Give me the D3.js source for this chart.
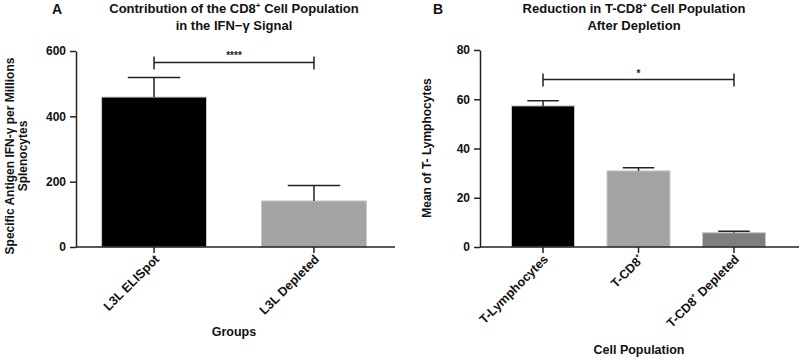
<!DOCTYPE html>
<html>
<head>
<meta charset="utf-8">
<script src="https://cdn.jsdelivr.net/npm/d3@7"></script>
<style>
  body { margin: 0; background: #fff; }
  svg { display: block; font-family: "Liberation Sans", Arial, sans-serif; font-weight: bold; }
</style>
</head>
<body>
<script>
// panel A
const groupsA = ["L3L ELISpot", "L3L Depleted"];
const meansA = [459, 141];
const errA = [60, 47];
const colorsA = ["#000000", "#a3a3a3"];
const ticksA = [0, 200, 400, 600];

// panel B
const groupsB = ["T-Lymphocytes", "T-CD8+", "T-CD8+ Depleted"];
const meansB = [57.3, 30.9, 5.8];
const errB = [2.1, 1.3, 0.6];
const colorsB = ["#000000", "#a3a3a3", "#7f7f7f"];
const ticksB = [0, 20, 40, 60, 80];

var svg = d3.select("body").append("svg")
    .attr("width", 800)
    .attr("height", 357);

function panel(opt) {
    var g = svg.append("g");
    var x = d3.scaleBand()
        .domain(opt.groups)
        .range([opt.x0, opt.x1])
        .paddingInner(opt.padIn)
        .paddingOuter(opt.padOut);
    var y = d3.scaleLinear()
        .domain([0, opt.max])
        .range([247, opt.top]);

    // bars
    g.selectAll("rect.bar")
        .data(opt.groups)
        .enter().append("rect")
        .attr("x", d => x(d))
        .attr("width", x.bandwidth())
        .attr("y", (d, i) => y(opt.means[i]))
        .attr("height", (d, i) => y(0) - y(opt.means[i]))
        .attr("fill", (d, i) => opt.colors[i])
        .attr("stroke", "#c8c8c8")
        .attr("stroke-width", 1);

    // error bars
    var eb = g.selectAll("g.err")
        .data(opt.groups)
        .enter().append("g")
        .attr("stroke", "#222")
        .attr("stroke-width", 1.5);
    eb.append("line")
        .attr("x1", d => x(d) + x.bandwidth() / 2)
        .attr("x2", d => x(d) + x.bandwidth() / 2)
        .attr("y1", (d, i) => y(opt.means[i]))
        .attr("y2", (d, i) => y(opt.means[i] + opt.err[i]));
    eb.append("line")
        .attr("x1", d => x(d) + x.bandwidth() / 4)
        .attr("x2", d => x(d) + x.bandwidth() * 3 / 4)
        .attr("y1", (d, i) => y(opt.means[i] + opt.err[i]))
        .attr("y2", (d, i) => y(opt.means[i] + opt.err[i]));

    // y axis
    var ya = g.append("g")
        .attr("transform", "translate(" + opt.x0 + ",0)")
        .call(d3.axisLeft(y).tickValues(opt.ticks).tickSize(6).tickSizeOuter(0));
    ya.selectAll("text").style("font-size", "12px").style("font-weight", "bold").attr("fill", "#111").attr("dx", "-1");
    ya.selectAll("line, path").attr("stroke", "#222").attr("stroke-width", 1.5);

    // x axis
    var xa = g.append("g")
        .attr("transform", "translate(0,247)")
        .call(d3.axisBottom(x).tickSize(6).tickSizeOuter(0));
    xa.select("path").attr("d", "M" + opt.x0 + ",0H" + opt.xEnd);
    xa.selectAll("line, path").attr("stroke", "#222").attr("stroke-width", 1.5);
    xa.selectAll("text").remove();
    xa.selectAll(".tick").each(function(d) {
        var t = d3.select(this).append("text")
            .attr("transform", "translate(6,13) rotate(-45)")
            .attr("text-anchor", "end")
            .attr("fill", "#111")
            .style("font-size", "12.5px")
            .style("font-weight", "bold");
        var m = d.match(/^(T-CD8)\+(.*)$/);
        if (m) {
            t.append("tspan").text(m[1]);
            t.append("tspan").attr("dy", "-6").style("font-size", "7px").text("+");
            if (m[2]) t.append("tspan").attr("dy", "6").text(m[2]);
        } else {
            t.text(d);
        }
    });

    // significance bracket
    var xa1 = x(opt.groups[0]) + x.bandwidth() / 2;
    var xa2 = x(opt.groups[opt.sigTo]) + x.bandwidth() / 2;
    var sy = y(opt.sigY);
    var br = g.append("g").attr("stroke", "#222").attr("stroke-width", 1.5);
    br.append("line").attr("x1", xa1).attr("x2", xa2).attr("y1", sy).attr("y2", sy);
    br.append("line").attr("x1", xa1).attr("x2", xa1).attr("y1", sy - 6).attr("y2", sy + 7);
    br.append("line").attr("x1", xa2).attr("x2", xa2).attr("y1", sy - 6).attr("y2", sy + 7);
    g.append("text")
        .attr("x", (xa1 + xa2) / 2)
        .attr("y", sy - 3)
        .attr("text-anchor", "middle")
        .style("font-size", "10px")
        .attr("fill", "#222")
        .text(opt.stars);

    // panel letter
    g.append("text")
        .attr("x", opt.letterX)
        .attr("y", 14)
        .style("font-size", "14px")
        .attr("fill", "#111")
        .text(opt.letter);

    // title
    var t1 = g.append("text")
        .attr("x", opt.titleX)
        .attr("y", 13)
        .attr("text-anchor", "middle")
        .style("font-size", "13px")
        .attr("fill", "#111");
    t1.append("tspan").text(opt.title1[0]);
    t1.append("tspan").attr("dy", "-5").style("font-size", "8px").text("+");
    t1.append("tspan").attr("dy", "5").text(opt.title1[1]);
    g.append("text")
        .attr("x", opt.titleX)
        .attr("y", 30)
        .attr("text-anchor", "middle")
        .style("font-size", "13px")
        .attr("fill", "#111")
        .text(opt.title2);

    // y label
    opt.yLabel.forEach(function(s, i) {
        g.append("text")
            .attr("transform", "translate(" + (opt.yLabelX + i * 13) + "," + opt.yLabelY + ") rotate(-90)")
            .attr("text-anchor", "middle")
            .style("font-size", "12px")
            .attr("fill", "#111")
            .text(s);
    });

    // x label
    g.append("text")
        .attr("x", opt.xLabelX)
        .attr("y", opt.xLabelY)
        .attr("text-anchor", "middle")
        .style("font-size", "12.5px")
        .attr("fill", "#111")
        .text(opt.xLabel);
}

panel({
    groups: groupsA, means: meansA, err: errA, colors: colorsA, ticks: ticksA,
    max: 600, top: 51, x0: 76, x1: 392, xEnd: 395, padIn: 0.344, padOut: 0.16,
    sigY: 565, sigTo: 1, stars: "****",
    letter: "A", letterX: 52, titleX: 234,
    title1: ["Contribution of the CD8", " Cell Population"],
    title2: "in the IFN\u2212\u03b3 Signal",
    yLabel: ["Specific Antigen IFN-\u03b3 per Millions", "Splenocytes"], yLabelX: 14, yLabelY: 156,
    xLabel: "Groups", xLabelX: 234, xLabelY: 336
});

panel({
    groups: groupsB, means: meansB, err: errB, colors: colorsB, ticks: ticksB,
    max: 80, top: 50, x0: 480, x1: 797, xEnd: 799, padIn: 0.34, padOut: 0.33,
    sigY: 68, sigTo: 2, stars: "*",
    letter: "B", letterX: 433, titleX: 634,
    title1: ["Reduction in T-CD8", " Cell Population"],
    title2: "After Depletion",
    yLabel: ["Mean of T- Lymphocytes"], yLabelX: 431, yLabelY: 148,
    xLabel: "Cell Population", xLabelX: 639, xLabelY: 354
});
</script>
</body>
</html>
